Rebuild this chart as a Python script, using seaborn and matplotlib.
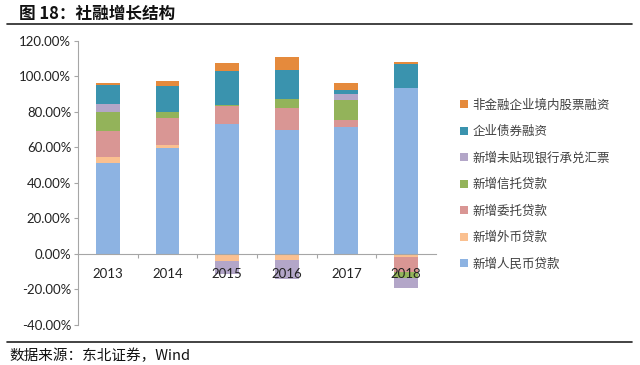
import numpy as np
import pandas as pd
import matplotlib
matplotlib.use("Agg")
import matplotlib.pyplot as plt
from matplotlib.patches import Patch
import seaborn as sns

# data (% of total social financing)
years = ["2013", "2014", "2015", "2016", "2017", "2018"]
series_names = [
    "新增人民币贷款",
    "新增外币贷款",
    "新增委托贷款",
    "新增信托贷款",
    "新增未贴现银行承兑汇票",
    "企业债券融资",
    "非金融企业境内股票融资",
]
rmb_loans = [51.4, 59.4, 73.1, 69.9, 71.2, 93.5]
fx_loans = [3.4, 2.2, -4.2, -3.2, 0.0, -1.5]
entrusted = [14.7, 15.2, 10.4, 12.3, 4.2, -8.5]
trust = [10.6, 3.1, 0.3, 4.8, 11.4, -3.5]
undiscounted = [4.5, -0.8, -6.9, -11.0, 3.2, -6.0]
bonds = [10.5, 14.7, 19.1, 16.8, 2.1, 13.2]
stocks = [1.3, 2.6, 4.9, 7.0, 4.1, 1.6]

colors = ["#8DB3E2", "#FAC090", "#D99694", "#93B35A", "#B3A6C8", "#3A93AE", "#E58A3C"]

sns.set_theme(style="white")
plt.rcParams["font.family"] = ["Lato", "Noto Sans CJK SC", "DejaVu Sans"]

values = [rmb_loans, fx_loans, entrusted, trust, undiscounted, bonds, stocks]
df = pd.DataFrame({name: v for name, v in zip(series_names, values)}, index=years)

fig = plt.figure(figsize=(6.4, 3.65), dpi=100)
ax = fig.add_axes([0.122, 0.110, 0.559, 0.778])

pos_base = np.zeros(len(years))
neg_base = np.zeros(len(years))
for name, col in zip(series_names, colors):
    v = df[name].to_numpy()
    bottom = np.where(v >= 0, pos_base, neg_base)
    sns.barplot(x=years, y=v, bottom=bottom, color=col, width=0.4,
                saturation=1, linewidth=0, ax=ax)
    pos_base = pos_base + np.clip(v, 0, None)
    neg_base = neg_base + np.clip(v, None, 0)

ax.set_axisbelow(False)  # year labels sit on top of the negative bars
ax.set_ylim(-40, 120)
ax.set_xlim(-0.5, 5.5)
ax.set_yticks(np.arange(-40, 121, 20))
ax.set_yticklabels([f"{t:.2f}%" for t in np.arange(-40, 121, 20)])
ax.set_xlabel("")
ax.set_ylabel("")

axis_grey = "#A6A6A6"
for s in ["top", "right"]:
    ax.spines[s].set_visible(False)
ax.spines["left"].set_color(axis_grey)
ax.spines["left"].set_linewidth(0.8)
ax.spines["bottom"].set_position(("data", 0))
ax.spines["bottom"].set_color(axis_grey)
ax.spines["bottom"].set_linewidth(0.8)

ax.set_xticks(np.arange(0.5, 5.0, 1.0), minor=True)
ax.tick_params(axis="x", which="major", length=0, pad=10, labelsize=9.5, colors="#222222")
ax.tick_params(axis="x", which="minor", bottom=True, length=3, width=0.8, color=axis_grey)
ax.tick_params(axis="y", left=True, length=3, width=0.8, color=axis_grey,
               labelsize=9.5, labelcolor="#222222", pad=2)

handles = [Patch(facecolor=c, edgecolor="none") for c in colors][::-1]
fig.legend(handles, series_names[::-1], loc="upper left",
           bbox_to_anchor=(0.709, 0.747), frameon=False,
           prop={"family": ["Noto Sans CJK SC", "DejaVu Sans"], "size": 9},
           handlelength=0.6, handleheight=0.6, handletextpad=0.4,
           labelspacing=1.08, borderpad=0, labelcolor="#404040")

# title, rules and source note
fig.text(0.03, 0.962, "图 18：社融增长结构", fontsize=12, fontweight="bold",
         family=["Noto Sans CJK SC", "DejaVu Sans"], va="center", ha="left", color="#111111")
fig.add_artist(plt.Line2D([0.011, 0.988], [0.934, 0.934], color="#222222", linewidth=1.2))
fig.add_artist(plt.Line2D([0.011, 0.988], [0.063, 0.063], color="#222222", linewidth=1.2))
fig.text(0.014, 0.026, "数据来源：东北证券，Wind", fontsize=10.5,
         family=["Noto Sans CJK SC", "DejaVu Sans"], va="center", ha="left", color="#111111")

fig.savefig("out.png", dpi=100)
